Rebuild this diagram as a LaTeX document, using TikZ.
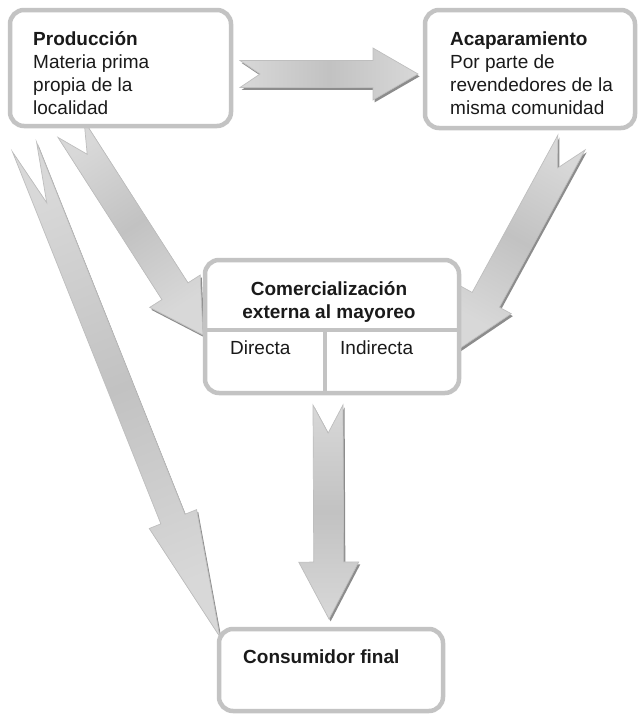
\documentclass[tikz,border=0pt]{standalone}
\usepackage{fontspec}
\setmainfont{Liberation Sans}
\usetikzlibrary{calc}
\definecolor{boxgray}{HTML}{C3C3C3}
\definecolor{shadowgray}{HTML}{8C8C8C}
\definecolor{arrowlight}{HTML}{D8D8D8}
\definecolor{arrowmid}{HTML}{C2C2C2}
\definecolor{arrowedge}{HTML}{BEBEBE}
\definecolor{txt}{HTML}{1A1A1A}
% #1 tail, #2 tip, #3 half shaft width, #4 half head width, #5 head length, #6 notch depth, #7 shading angle
\newcommand{\blockarrow}[7]{%
  \coordinate (bB) at ($(#2)!#5pt!(#1)$);
  \coordinate (q1) at ($(#1)!#3pt!90:(#2)$);
  \coordinate (q2) at ($(#1)!#6pt!(#2)$);
  \coordinate (q3) at ($(#1)!#3pt!-90:(#2)$);
  \coordinate (q4) at ($(bB)!#3pt!-90:(#2)$);
  \coordinate (q5) at ($(bB)!#4pt!-90:(#2)$);
  \coordinate (q6) at ($(bB)!#4pt!90:(#2)$);
  \coordinate (q7) at ($(bB)!#3pt!90:(#2)$);
  \fill[shadowgray, transform canvas={shift={(1.6pt,-2.4pt)}}]
    (q1) -- (q2) -- (q3) -- (q4) -- (q5) -- (#2) -- (q6) -- (q7) -- cycle;
  \shade[arrowbody, shading angle=#7]
    (q1) -- (q2) -- (q3) -- (q4) -- (q5) -- (#2) -- (q6) -- (q7) -- cycle;
}
\begin{document}
\begin{tikzpicture}[x=1pt,y=1pt,
  box/.style={draw=boxgray, line width=4.5pt, rounded corners=14pt, fill=white,
              inner sep=0pt, outer sep=0pt},
  lbl/.style={font=\fontsize{19}{23}\selectfont, text=txt, inner sep=0pt, align=left},
  blbl/.style={font=\bfseries\fontsize{19}{23}\selectfont, text=txt, inner sep=0pt, align=center},
  arrowbody/.style={top color=arrowlight, bottom color=arrowlight, middle color=arrowmid,
                    draw=arrowedge, line width=0.7pt, line join=miter}]
\useasboundingbox (0,0) rectangle (642,-715);

% arrow end points
\coordinate (hT) at (240,-74);     \coordinate (hP) at (418,-74);
\coordinate (pT) at (71,-129);     \coordinate (pP) at (203,-335);
\coordinate (aT) at (571.5,-142.5);\coordinate (aP) at (459,-349);
\coordinate (lT) at (24.5,-147);   \coordinate (lP) at (220,-637);
\coordinate (vT) at (328,-405);    \coordinate (vP) at (329,-619);

\blockarrow{hT}{hP}{13.5}{26}{45}{20}{90}
\blockarrow{lT}{lP}{13}{25.5}{127}{60}{22}
\blockarrow{pT}{pP}{15.5}{30}{52}{30}{33}
\blockarrow{aT}{aP}{15.5}{29}{56}{29}{-29}
\blockarrow{vT}{vP}{15}{30}{57}{28}{0}

% boxes
\node[box, minimum width=221pt, minimum height=116pt] (prod) at (120.5,-68) {};
\node[box, minimum width=210pt, minimum height=118pt] (acap) at (530,-69) {};
\node[box, minimum width=254pt, minimum height=133pt] (com) at (332,-326.5) {};
\node[box, minimum width=224pt, minimum height=82pt] (cons) at (331,-670) {};
\coordinate (divL) at (205,-330);
\coordinate (divR) at (459,-330);
\coordinate (divT) at (325,-330);
\coordinate (divB) at (325,-393);
\draw[draw=boxgray, line width=4.5pt] (divL) -- (divR);
\draw[draw=boxgray, line width=4pt] (divT) -- (divB);

% texts
\node[lbl, anchor=north west] (prodtxt) at (33,-29)
  {\strut\textbf{Producción}\\Materia prima\\propia de la\\localidad};
\node[lbl, anchor=north west] (acaptxt) at (450,-29)
  {\strut\textbf{Acaparamiento}\\Por parte de\\revendedores de la\\misma comunidad};
\node[blbl, anchor=north] (comtxt) at (329,-279)
  {\strut Comercialización\\externa al mayoreo};
\node[lbl, anchor=base west] (dir) at (230,-354) {Directa};
\node[lbl, anchor=base west] (ind) at (340,-354) {Indirecta};
\node[lbl, anchor=base west, font=\bfseries\fontsize{19}{22}\selectfont] (constxt) at (243,-663) {Consumidor final};
\end{tikzpicture}
\end{document}
